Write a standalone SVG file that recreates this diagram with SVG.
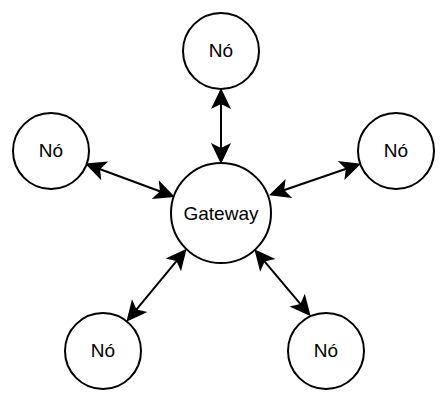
<svg xmlns="http://www.w3.org/2000/svg" width="448" height="403" viewBox="0 0 448 403">
  <style>
    .node { fill: #ffffff; stroke: #000000; stroke-width: 2; }
    .label { font-family: "Liberation Sans", Arial, sans-serif; font-size: 19px; fill: #000000; text-anchor: middle; }
    .gw { font-size: 19px; }
    .edge { stroke: #000000; stroke-width: 2; fill: none; marker-start: url(#arrow); marker-end: url(#arrow); }
  </style>
  <defs>
    <marker id="arrow" markerUnits="userSpaceOnUse" markerWidth="22" markerHeight="22" viewBox="0 0 22 22" refX="18" refY="11" orient="auto-start-reverse">
      <path d="M1,1 L22,11 L1,21 L6,11 Z" fill="#000000"/>
    </marker>
  </defs>
  <rect width="448" height="403" fill="#ffffff"/>
  <g id="connectors">
    <line class="edge" x1="221" y1="92" x2="221" y2="160"/>
    <line class="edge" x1="88.8" y1="165" x2="171.2" y2="195.5"/>
    <line class="edge" x1="357.2" y1="165" x2="272.8" y2="194"/>
    <line class="edge" x1="184.1" y1="251.8" x2="128.9" y2="318.7"/>
    <line class="edge" x1="256.9" y1="252.3" x2="308.1" y2="313.2"/>
  </g>
  <g id="gateway">
    <circle class="node" cx="221" cy="213" r="50"/>
    <text class="label gw" x="221" y="220">Gateway</text>
  </g>
  <g id="node-top">
    <circle class="node" cx="221" cy="51" r="38"/>
    <text class="label" x="221" y="57">Nó</text>
  </g>
  <g id="node-left">
    <circle class="node" cx="51" cy="151" r="38"/>
    <text class="label" x="51" y="157">Nó</text>
  </g>
  <g id="node-right">
    <circle class="node" cx="396" cy="151" r="38"/>
    <text class="label" x="396" y="157">Nó</text>
  </g>
  <g id="node-bottom-left">
    <circle class="node" cx="103" cy="351" r="38"/>
    <text class="label" x="103" y="357">Nó</text>
  </g>
  <g id="node-bottom-right">
    <circle class="node" cx="326" cy="351" r="38"/>
    <text class="label" x="326" y="357">Nó</text>
  </g>
</svg>
